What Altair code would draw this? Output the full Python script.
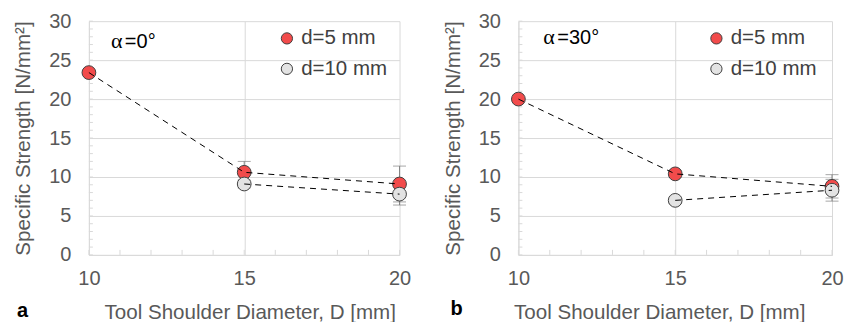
import altair as alt
import pandas as pd

# ---- data ----
diameters = [10, 15, 20]
series_names = ["d=5 mm", "d=10 mm"]

# alpha = 0 deg
a0_d5 = [23.4, 10.6, 9.1]
a0_d5_err = [0.0, 1.4, 2.3]
a0_d10 = [None, 9.1, 7.8]
a0_d10_err = [None, 0.5, 1.4]

# alpha = 30 deg
a30_d5 = [20.0, 10.4, 8.8]
a30_d5_err = [0.0, 0.4, 1.5]
a30_d10 = [None, 7.0, 8.3]
a30_d10_err = [None, 0.4, 1.4]

y_major = [0, 5, 10, 15, 20, 25, 30]
y_minor = list(range(0, 31))
x_minor = list(range(10, 21))

FONT = "Liberation Sans"
AX_COL = "#595959"
GRID = "#d9d9d9"


def make_df(d5, d5e, d10, d10e):
    rows = []
    for name, vals, errs in [(series_names[0], d5, d5e), (series_names[1], d10, d10e)]:
        for D, v, e in zip(diameters, vals, errs):
            if v is None:
                continue
            rows.append({"series": name, "D": D, "val": v, "lo": v - e, "hi": v + e})
    return pd.DataFrame(rows)


def panel(df, alpha_txt, letter, w, h, a_dx, a_dy, lx, ly, title_x):
    xs = alt.Scale(domain=[10, 20], nice=False, zero=False)
    ys = alt.Scale(domain=[0, 30], nice=False)
    xaxis = alt.Axis(values=diameters, title="Tool Shoulder Diameter, D [mm]",
                     titleX=title_x, labelPadding=14, titlePadding=14, labelFlush=False)
    yaxis = alt.Axis(values=y_major, title="Specific Strength [N/mm²]",
                     labelPadding=18, titlePadding=15, labelFlush=False)

    ymin = alt.Chart(pd.DataFrame({"y": y_minor})).mark_rule(color=GRID, strokeWidth=1).encode(
        y=alt.Y("y:Q", scale=ys, axis=yaxis), x=alt.value(0), x2=alt.value(4))
    xmin = alt.Chart(pd.DataFrame({"x": x_minor})).mark_rule(color=GRID, strokeWidth=1).encode(
        x=alt.X("x:Q", scale=xs, axis=xaxis), y=alt.value(h), y2=alt.value(h - 5))

    base = alt.Chart(df)
    err = base.mark_errorbar(ticks={"size": 13}, color="#808080", thickness=1).encode(
        x=alt.X("D:Q", scale=xs, axis=xaxis),
        y=alt.Y("lo:Q", scale=ys, axis=yaxis),
        y2="hi:Q",
        detail="series:N")
    pts = base.mark_point(filled=True, size=190, stroke="#404040", strokeWidth=1, opacity=1).encode(
        x=alt.X("D:Q", scale=xs, axis=xaxis),
        y=alt.Y("val:Q", scale=ys, axis=yaxis),
        fill=alt.Fill("series:N",
                      scale=alt.Scale(domain=series_names, range=["#F24B4B", "#E3E3E3"]),
                      legend=alt.Legend(title=None, orient="none", legendX=lx, legendY=ly,
                                        symbolType="circle", symbolSize=127,
                                        symbolStrokeColor="#404040", symbolStrokeWidth=1,
                                        labelFontSize=20.5, labelFont=FONT, labelColor="#404040",
                                        labelOffset=4, rowPadding=9.5)))
    lines = base.mark_line(color="black", strokeWidth=1, strokeDash=[6, 5]).encode(
        x=alt.X("D:Q", scale=xs, axis=xaxis),
        y=alt.Y("val:Q", scale=ys, axis=yaxis),
        detail="series:N")
    alpha = alt.Chart(pd.DataFrame({"t": ["α"]})).mark_text(
        font="Liberation Serif", fontSize=22, align="left", baseline="alphabetic", color="black").encode(
        text="t:N", x=alt.value(a_dx), y=alt.value(a_dy))
    eq = alt.Chart(pd.DataFrame({"t": [alpha_txt]})).mark_text(
        font=FONT, fontSize=20, align="left", baseline="alphabetic", color="black").encode(
        text="t:N", x=alt.value(a_dx + 14), y=alt.value(a_dy))
    let = alt.Chart(pd.DataFrame({"t": [letter[0]]})).mark_text(
        font=FONT, fontSize=20, fontWeight="bold", align="left", baseline="alphabetic",
        color="black").encode(text="t:N", x=alt.value(letter[1]), y=alt.value(letter[2]))
    return alt.layer(ymin, xmin, err, pts, lines, alpha, eq, let).properties(width=w, height=h)


df0 = make_df(a0_d5, a0_d5_err, a0_d10, a0_d10_err)
df30 = make_df(a30_d5, a30_d5_err, a30_d10, a30_d10_err)

left = panel(df0, "=0°", ("a", -72, 296), 311, 234, 22, 27, 188, 7, 161)
right = panel(df30, "=30°", ("b", -68, 294), 314, 234, 25, 23, 188, 7, 141)

chart = alt.hconcat(left, right, spacing=119, bounds="flush").resolve_scale(
    fill="independent").resolve_legend(fill="independent").configure_view(
    stroke=None).configure_axis(
    gridColor=GRID, domainColor=GRID, ticks=False, labelFont=FONT, titleFont=FONT,
    labelFontSize=20, titleFontSize=20.6, labelColor=AX_COL, titleColor=AX_COL,
    titleFontWeight="normal").properties(padding={"left": 5, "top": 3, "right": 5, "bottom": 0})

chart.save("out.html", embed_options={"renderer": "svg", "actions": False})
